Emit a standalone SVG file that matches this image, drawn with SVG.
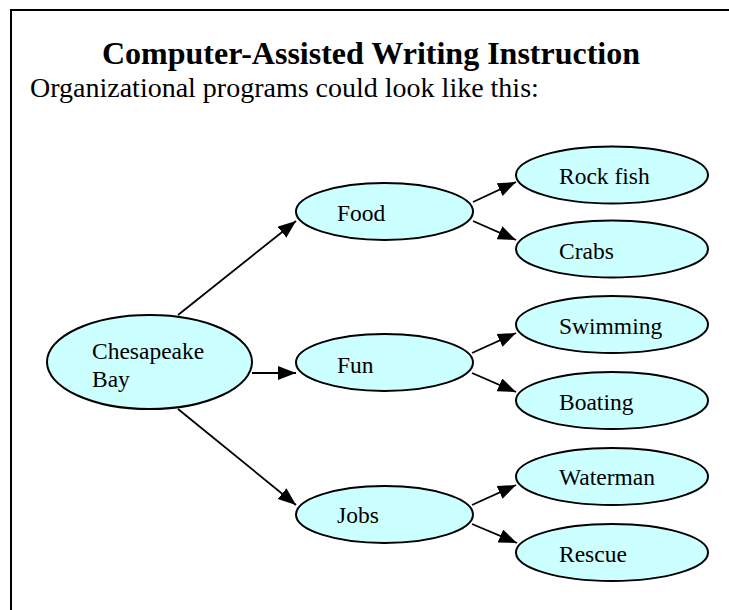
<svg xmlns="http://www.w3.org/2000/svg" width="729" height="610" viewBox="0 0 729 610">
  <defs>
    <marker id="arrow" markerUnits="userSpaceOnUse" markerWidth="19" markerHeight="15" refX="18" refY="7" orient="auto">
      <path d="M0,0 L18,7 L0,14 z" fill="#000"/>
    </marker>
  </defs>
  <style>
    .node ellipse { fill: #CCFFFF; stroke: #000; stroke-width: 2; }
    .node text { font-family: "Liberation Serif", "Times New Roman", serif; font-size: 23.5px; fill: #000; }
    .edges line { stroke: #000; stroke-width: 1.8; marker-end: url(#arrow); }
    .title { font-family: "Liberation Serif", "Times New Roman", serif; font-size: 32px; font-weight: bold; fill: #000; }
    .subtitle { font-family: "Liberation Serif", "Times New Roman", serif; font-size: 28px; fill: #000; }
  </style>

  <rect width="729" height="610" fill="#fff"/>
  <!-- page frame, running past the right and bottom edges -->
  <rect x="11" y="10" width="740" height="640" fill="none" stroke="#000" stroke-width="2"/>

  <text class="title" x="371" y="64" text-anchor="middle">Computer-Assisted Writing Instruction</text>
  <text class="subtitle" x="30" y="97">Organizational programs could look like this:</text>

  <g class="edges">
    <line x1="178" y1="315" x2="296" y2="221"/>
    <line x1="252" y1="373" x2="296" y2="373"/>
    <line x1="178" y1="409" x2="296" y2="505"/>
    <line x1="473" y1="202" x2="516" y2="182"/>
    <line x1="473" y1="221" x2="516" y2="240"/>
    <line x1="472" y1="353" x2="516" y2="333"/>
    <line x1="472" y1="373" x2="516" y2="392"/>
    <line x1="472" y1="505" x2="516" y2="485"/>
    <line x1="472" y1="524" x2="517" y2="543"/>
  </g>

  <g id="chesapeake" class="node">
    <ellipse cx="149.5" cy="362" rx="102.5" ry="47"/>
    <text x="92" y="359">Chesapeake</text>
    <text x="92" y="387">Bay</text>
  </g>

  <g id="food" class="node">
    <ellipse cx="384.5" cy="211.5" rx="88.5" ry="28.5"/>
    <text x="337" y="221">Food</text>
  </g>
  <g id="fun" class="node">
    <ellipse cx="384.5" cy="362.5" rx="88.5" ry="28.5"/>
    <text x="337" y="373">Fun</text>
  </g>
  <g id="jobs" class="node">
    <ellipse cx="384.5" cy="514.5" rx="88.5" ry="28.5"/>
    <text x="337" y="523">Jobs</text>
  </g>

  <g id="rockfish" class="node">
    <ellipse cx="612" cy="175" rx="96" ry="28.5"/>
    <text x="559" y="184">Rock fish</text>
  </g>
  <g id="crabs" class="node">
    <ellipse cx="612" cy="249" rx="96" ry="28.5"/>
    <text x="559" y="259">Crabs</text>
  </g>
  <g id="swimming" class="node">
    <ellipse cx="612" cy="324.5" rx="96" ry="28.5"/>
    <text x="559" y="334">Swimming</text>
  </g>
  <g id="boating" class="node">
    <ellipse cx="612" cy="400.5" rx="96" ry="28.5"/>
    <text x="559" y="410">Boating</text>
  </g>
  <g id="waterman" class="node">
    <ellipse cx="612" cy="476.5" rx="96" ry="28.5"/>
    <text x="559" y="485">Waterman</text>
  </g>
  <g id="rescue" class="node">
    <ellipse cx="612" cy="552.5" rx="96" ry="28.5"/>
    <text x="559" y="562">Rescue</text>
  </g>
</svg>
